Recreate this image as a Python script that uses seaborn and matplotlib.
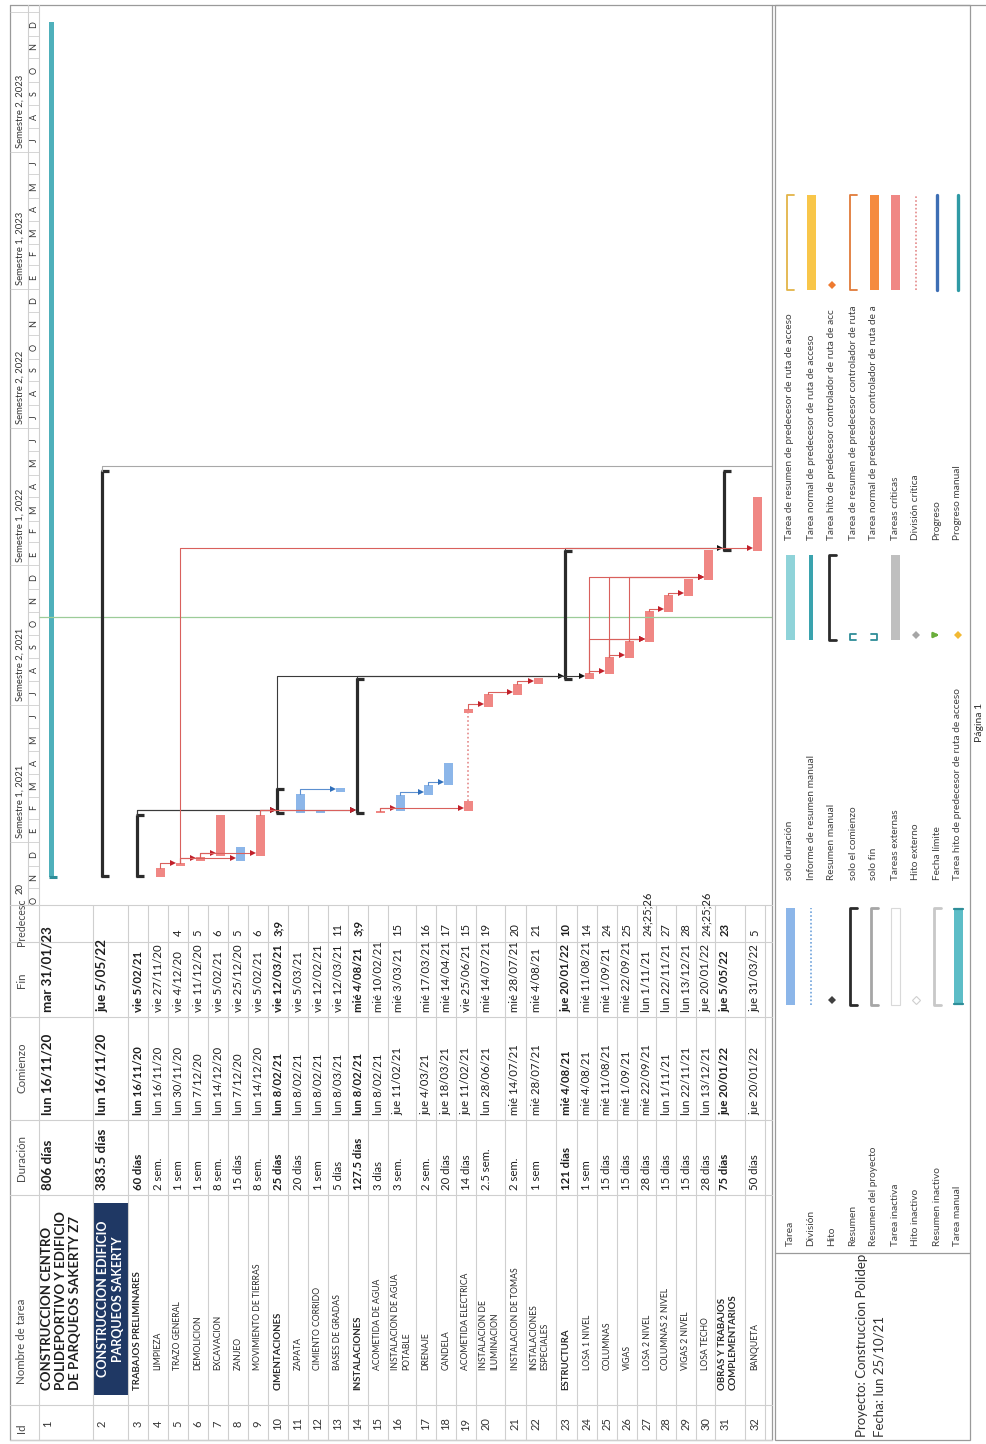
import matplotlib
matplotlib.use("Agg")
import matplotlib.pyplot as plt
import matplotlib.dates as mdates
from matplotlib.patches import Rectangle
import numpy as np
import pandas as pd
import seaborn as sns

sns.set_theme(style="white")
plt.rcParams["font.family"] = ["Lato", "DejaVu Sans"]

# ---------------- datos de la tabla ----------------
ids = list(range(1, 33))
nombres = [
    "CONSTRUCCION CENTRO\nPOLIDEPORTIVO Y EDIFICIO\nDE PARQUEOS SAKERTY Z7",
    "CONSTRUCCION EDIFICIO\nPARQUEOS SAKERTY",
    "TRABAJOS PRELIMINARES", "LIMPIEZA", "TRAZO GENERAL", "DEMOLICION", "EXCAVACION",
    "ZANJEO", "MOVIMIENTO DE TIERRAS",
    "CIMENTACIONES", "ZAPATA", "CIMIENTO CORRIDO", "BASES DE GRADAS",
    "INSTALACIONES", "ACOMETIDA DE AGUA", "INSTALACION DE AGUA\nPOTABLE", "DRENAJE", "CANDELA",
    "ACOMETIDA ELECTRICA", "INSTALACION DE\nILUMINACION", "INSTALACION DE TOMAS",
    "INSTALACIONES\nESPECIALES",
    "ESTRUCTURA", "LOSA 1 NIVEL", "COLUMNAS", "VIGAS", "LOSA 2 NIVEL", "COLUMNAS 2 NIVEL",
    "VIGAS 2 NIVEL", "LOSA TECHO",
    "OBRAS Y TRABAJOS\nCOMPLEMENTARIOS", "BANQUETA",
]
duraciones = ["806 días", "383.5 días", "60 días", "2 sem.", "1 sem", "1 sem", "8 sem.",
              "15 días", "8 sem.", "25 días", "20 días", "1 sem", "5 días", "127.5 días",
              "3 días", "3 sem.", "2 sem.", "20 días", "14 días", "2.5 sem.", "2 sem.", "1 sem",
              "121 días", "1 sem", "15 días", "15 días", "28 días", "15 días", "15 días",
              "28 días", "75 días", "50 días"]
comienzos = ["lun 16/11/20", "lun 16/11/20", "lun 16/11/20", "lun 16/11/20", "lun 30/11/20",
             "lun 7/12/20", "lun 14/12/20", "lun 7/12/20", "lun 14/12/20", "lun 8/02/21",
             "lun 8/02/21", "lun 8/02/21", "lun 8/03/21", "lun 8/02/21", "lun 8/02/21",
             "jue 11/02/21", "jue 4/03/21", "jue 18/03/21", "jue 11/02/21", "lun 28/06/21",
             "mié 14/07/21", "mié 28/07/21", "mié 4/08/21", "mié 4/08/21", "mié 11/08/21",
             "mié 1/09/21", "mié 22/09/21", "lun 1/11/21", "lun 22/11/21", "lun 13/12/21",
             "jue 20/01/22", "jue 20/01/22"]
fines = ["mar 31/01/23", "jue 5/05/22", "vie 5/02/21", "vie 27/11/20", "vie 4/12/20",
         "vie 11/12/20", "vie 5/02/21", "vie 25/12/20", "vie 5/02/21", "vie 12/03/21",
         "vie 5/03/21", "vie 12/02/21", "vie 12/03/21", "mié 4/08/21", "mié 10/02/21",
         "mié 3/03/21", "mié 17/03/21", "mié 14/04/21", "vie 25/06/21", "mié 14/07/21",
         "mié 28/07/21", "mié 4/08/21", "jue 20/01/22", "mié 11/08/21", "mié 1/09/21",
         "mié 22/09/21", "lun 1/11/21", "lun 22/11/21", "lun 13/12/21", "jue 20/01/22",
         "jue 5/05/22", "jue 31/03/22"]
predecesoras = ["", "", "", "", "4", "5", "6", "5", "6", "3;9", "", "", "11", "3;9", "",
                "15", "16", "17", "15", "19", "20", "21", "10", "14", "24", "25", "24;25;26",
                "27", "28", "24;25;26", "23", "5"]
tipos = ["proyecto", "resumen", "resumen", "critica", "critica", "critica", "critica", "normal",
         "critica", "resumen", "normal", "normal", "normal", "resumen", "critica", "normal",
         "normal", "normal", "dividida", "critica", "critica", "critica", "resumen", "critica",
         "critica", "critica", "critica", "critica", "critica", "critica", "resumen", "critica"]
niveles = [0, 1, 2, 3, 3, 3, 3, 3, 3, 2, 3, 3, 3, 2, 3, 3, 3, 3, 3, 3, 3, 3, 2, 3, 3, 3, 3,
           3, 3, 3, 2, 3]

fin_barra_proyecto = "2023-12-19"
tramos_19 = [("2021-02-11", "2021-02-24"), ("2021-06-21", "2021-06-26")]
fecha_estado = "2021-10-25"
letras_mes = "EFMAMJJASOND"

leyenda_a = ["Tarea", "División", "Hito", "Resumen", "Resumen del proyecto", "Tarea inactiva",
             "Hito inactivo", "Resumen inactivo", "Tarea manual"]
leyenda_b = ["solo duración", "Informe de resumen manual", "Resumen manual", "solo el comienzo",
             "solo fin", "Tareas externas", "Hito externo", "Fecha límite",
             "Tarea hito de predecesor de ruta de acceso"]
leyenda_c = ["Tarea de resumen de predecesor de ruta de acceso",
             "Tarea normal de predecesor de ruta de acceso",
             "Tarea hito de predecesor controlador de ruta de acc",
             "Tarea de resumen de predecesor controlador de ruta",
             "Tarea normal de predecesor controlador de ruta de a",
             "Tareas críticas", "División crítica", "Progreso", "Progreso manual"]
muestras_a = [("barra", "#8cb6e9"), ("punteado", "#6fa3dc"), ("diamante", "#404040"),
              ("corchete", "#2b2b2b"), ("corchete", "#a6a6a6"), ("hueca", "#d9d9d9"),
              ("diamante_hueco", "#cfcfcf"), ("corchete", "#c8c8c8"), ("manual", "#5dbdc7")]
muestras_b = [("barra", "#8fd3d9"), ("fina", "#3aa3ae"), ("corchete", "#2b2b2b"),
              ("inicio", "#2e8c97"), ("final", "#2e8c97"), ("barra", "#bfbfbf"),
              ("diamante", "#a6a6a6"), ("flecha", "#6aae3c"), ("diamante", "#f2b933")]
muestras_c = [("corchete_fino", "#e3b448"), ("barra", "#f8c649"), ("diamante", "#ee7a30"),
              ("corchete_fino", "#e07b39"), ("barra", "#f58b3f"), ("barra", "#f08784"),
              ("punteado", "#e48a8a"), ("linea", "#3d6eb4"), ("linea", "#2f9aa5")]

# ---------------- colores ----------------
ROJO = "#f08784"
AZUL = "#8cb6e9"
TEAL = "#4fb0bb"
NEGRO = "#2b2b2b"
REJILLA = "#cfcfcf"
MARCO = "#9a9a9a"
TEXTO = "#1e1e1e"

# ---------------- geometría de la página (pixeles) ----------------
W, H = 987, 1444
alto_fila = [54, 35] + [20] * 13 + [28, 20, 20, 20, 29, 21, 30, 21, 20, 20, 20, 19, 20, 20,
                                     19, 30, 20]
fila_ini = 39 + np.concatenate([[0], np.cumsum(alto_fila)[:-1]])
fila_fin = fila_ini + np.array(alto_fila)

# columnas de la tabla (eje y de la página girada)
Y_TABLA = 905
col_lineas = [905, 942, 1017, 1120, 1195, 1405, 1440]
y_pred, y_fin, y_com, y_dur = 936, 1012, 1115, 1190
y_nombre = {0: 1390, 2: 1390, 3: 1370}
y_id = 1424

df = pd.DataFrame(dict(id=ids, nombre=nombres, dur=duraciones, com=comienzos, fin=fines,
                       pred=predecesoras, tipo=tipos, nivel=niveles))
df["ini_d"] = pd.to_datetime(df["com"].str.split().str[1], format="%d/%m/%y")
df["fin_d"] = pd.to_datetime(df["fin"].str.split().str[1], format="%d/%m/%y") + pd.Timedelta(days=1)
df.loc[0, "fin_d"] = pd.Timestamp(fin_barra_proyecto)
df["ini_n"] = mdates.date2num(df["ini_d"].values)
df["fin_n"] = mdates.date2num(df["fin_d"].values)
df["x0"] = fila_ini
df["xc"] = fila_ini + 12

fig = plt.figure(figsize=(W / 100, H / 100), dpi=100)
hoja = fig.add_axes([0, 0, 1, 1])
hoja.set_xlim(0, W)
hoja.set_ylim(H, 0)
hoja.axis("off")


def vtext(ax, x, y, s, **kw):
    kw.setdefault("color", TEXTO)
    kw.setdefault("ha", "center")
    kw.setdefault("va", "bottom")
    ax.text(x, y, s, rotation=90, **kw)


# ---------------- marco y rejilla de la tabla ----------------
hoja.plot([10, 10], [5, 1440], color=MARCO, lw=0.9)
hoja.plot([10, W], [5, 5], color=MARCO, lw=0.9)
hoja.plot([772, 772], [5, 1440], color=MARCO, lw=0.9)
hoja.plot([10, 772], [1440, 1440], color=MARCO, lw=0.9)
for yl in col_lineas:
    hoja.plot([10, 772], [yl, yl], color=REJILLA, lw=0.8)
for xl in list(fila_ini) + [fila_fin[-1]]:
    hoja.plot([xl, xl], [Y_TABLA, 1440], color=REJILLA, lw=0.8)
hoja.plot([28, 28], [5, Y_TABLA], color=REJILLA, lw=0.8)
hoja.plot([39, 39], [5, Y_TABLA], color=REJILLA, lw=0.8)

# encabezados
HDR = dict(fontsize=8.3, color="#4a4a4a")
vtext(hoja, 22, 946, "Predecesc", fontsize=7.6, color="#4a4a4a")
vtext(hoja, 22, 980, "Fin", va="center", **HDR)
vtext(hoja, 22, 1068, "Comienzo", va="center", **HDR)
vtext(hoja, 22, 1158, "Duración", va="center", **HDR)
vtext(hoja, 22, 1384, "Nombre de tarea", **HDR)
vtext(hoja, 22, 1428, "Id", va="center", **HDR)

# celdas
for r in df.itertuples():
    negrita = r.tipo in ("proyecto", "resumen")
    grande = r.id in (1, 2)
    fs = 9.6 if grande else 8.2
    fw = "bold" if negrita else "normal"
    xl = r.x0 + (9 if grande else 10)
    vtext(hoja, xl, y_id, str(r.id), fontsize=8, va="center", color="#333333")
    vtext(hoja, xl, y_dur, r.dur, fontsize=fs, fontweight=fw)
    vtext(hoja, xl, y_com, r.com, fontsize=fs, fontweight=fw)
    vtext(hoja, xl, y_fin, r.fin, fontsize=fs, fontweight=fw)
    if r.pred:
        vtext(hoja, xl, y_pred, r.pred, fontsize=8, fontweight=fw)
    if r.id == 2:
        hoja.add_patch(Rectangle((r.x0 + 0.5, 1203), alto_fila[1] - 1, 192,
                                 color="#1f3864", lw=0))
        vtext(hoja, r.x0 + alto_fila[1] / 2, 1299, r.nombre, fontsize=9, fontweight="bold",
              color="white", va="center", multialignment="center", linespacing=1.25)
    elif r.id == 1:
        vtext(hoja, r.x0 + 2, y_nombre[0], r.nombre, fontsize=9.5, fontweight="bold",
              ha="left", linespacing=1.2)
    else:
        fsn = 6.9 if negrita else 6.2
        if "\n" in r.nombre:
            vtext(hoja, r.x0 + 3, y_nombre[r.nivel], r.nombre, fontsize=fsn, fontweight=fw,
                  ha="left", linespacing=1.3, color="#2a2a2a")
        else:
            vtext(hoja, xl, y_nombre[r.nivel], r.nombre, fontsize=fsn, fontweight=fw,
                  color="#2a2a2a")

# ---------------- diagrama de Gantt ----------------
GX0, GX1, GY0, GY1 = 10, 772, 5, Y_TABLA
REF, REF_PX, PX_DIA = pd.Timestamp("2020-11-16"), 877, 0.758
DIAS_PX = 1 / PX_DIA
gantt = fig.add_axes([GX0 / W, 1 - GY1 / H, (GX1 - GX0) / W, (GY1 - GY0) / H])
gantt.patch.set_alpha(0)
gantt.set_xlim(GX0, GX1)


def px_a_num(p):
    return mdates.date2num(REF + pd.Timedelta(days=(REF_PX - p) / PX_DIA))


gantt.set_ylim(px_a_num(GY1), px_a_num(GY0))
gantt.axis("off")

# escala de tiempo
meses = pd.date_range("2020-10-01", "2024-01-01", freq="MS")
for m in meses:
    gantt.hlines(mdates.date2num(m), 28, 39, color=REJILLA, lw=0.6)
for m in meses[:-1]:
    gantt.text(34, mdates.date2num(m + pd.Timedelta(days=15)), letras_mes[m.month - 1],
               rotation=90, ha="center", va="center", fontsize=6.5, color="#333333",
               clip_on=True)
semestres = pd.date_range("2020-07-01", "2024-01-01", freq="6MS")
for s in semestres:
    gantt.hlines(mdates.date2num(s), 10, 28, color=REJILLA, lw=0.6)
for s in semestres[:-1]:
    if s < REF:
        # sólo asoma el final de la etiqueta del semestre anterior
        gantt.text(20, px_a_num(883), str(s.year)[2:], rotation=90, ha="center", va="top",
                   fontsize=6.8, color="#333333")
        continue
    etiqueta = "Semestre %d, %d" % (1 if s.month == 1 else 2, s.year)
    gantt.text(20, mdates.date2num(s + pd.Timedelta(days=5)), etiqueta, rotation=90,
               ha="center", va="bottom", fontsize=6.8, color="#333333", clip_on=True)

# línea de fecha de estado
gantt.hlines(mdates.date2num(pd.Timestamp(fecha_estado)), 39, GX1, color="#9ccc98", lw=0.9)

# barra del proyecto (tarea 1)
p1 = df.iloc[0]
gantt.bar(p1.xc, p1.fin_n - p1.ini_n, bottom=p1.ini_n, width=5, color=TEAL, lw=0)
gantt.hlines(p1.ini_n, p1.xc - 2.5, p1.xc + 6, color="#2e8e99", lw=2.2)

# barras críticas y normales
crit = df[df.tipo == "critica"]
gantt.bar(crit.xc, crit.fin_n - crit.ini_n, bottom=crit.ini_n, width=9, color=ROJO, lw=0)
norm = df[df.tipo == "normal"]
gantt.bar(norm.xc, norm.fin_n - norm.ini_n, bottom=norm.ini_n, width=9, color=AZUL, lw=0)

# tarea dividida (19)
t19 = df[df.id == 19].iloc[0]
tr = [(mdates.date2num(pd.Timestamp(a)), mdates.date2num(pd.Timestamp(b))) for a, b in tramos_19]
for a, b in tr:
    gantt.bar(t19.xc, b - a, bottom=a, width=9, color=ROJO, lw=0)
gantt.vlines(t19.xc, tr[0][1], tr[1][0], color="#e48a8a", lw=1.2, linestyles=(0, (1, 1.5)))

# resúmenes
res = df[df.tipo == "resumen"]
for r in res.itertuples():
    xl = r.xc - 3
    gantt.vlines(xl, r.ini_n, r.fin_n, color=NEGRO, lw=2.3)
    gantt.hlines([r.ini_n + 0.6 * DIAS_PX, r.fin_n - 0.6 * DIAS_PX], xl - 1, r.xc + 4,
                 color=NEGRO, lw=2.3)

# vínculo saliente del resumen 2
r2 = df[df.id == 2].iloc[0]
y_sal = r2.fin_n + 5 * DIAS_PX
gantt.plot([r2.xc - 3, r2.xc - 3, GX1], [r2.fin_n, y_sal, y_sal], color="#a8a8a8", lw=0.8)

# vínculos fin-comienzo
pos = df.set_index("id")
orden = {"proyecto": 0, "resumen": 0, "normal": 1, "critica": 2, "dividida": 2}
col_linea = {"resumen": "#3a3a3a", "normal": "#5b8fd0", "critica": "#d9605c",
             "dividida": "#d9605c"}
col_flecha = {"resumen": "#111111", "normal": "#2f6eba", "critica": "#c0202a",
              "dividida": "#c0202a"}
enlaces = [(int(p), s) for s, pr in zip(df.id, df.pred) if pr for p in pr.split(";")]
enlaces.sort(key=lambda e: orden[pos.loc[e[0], "tipo"]])
for p, s in enlaces:
    tp = pos.loc[p, "tipo"]
    xp = pos.loc[p, "xc"] - (3 if tp == "resumen" else 0)
    yp = pos.loc[p, "fin_n"]
    ys = pos.loc[s, "ini_n"] + 3 * DIAS_PX
    xt = pos.loc[s, "xc"] - 7.5
    gantt.plot([xp, xp, xt], [yp, ys, ys], color=col_linea[tp], lw=0.8)
    gantt.plot([xt], [ys], marker=">", ms=5, color=col_flecha[tp], mew=0)

# ---------------- leyenda ----------------
hoja.add_patch(Rectangle((775, 5), 195, 1435, fill=False, edgecolor=MARCO, lw=0.9))
hoja.plot([775, 970], [1253, 1253], color=MARCO, lw=0.9)
vtext(hoja, 862, 1437, "Proyecto: Construccion Polidep", fontsize=9.5, color="#333333")
vtext(hoja, 880, 1437, "Fecha: lun 25/10/21", fontsize=9.5, color="#333333")
vtext(hoja, 979, 722, "Página 1", fontsize=7.5, va="center", color="#333333")


def muestra(tipo, color, x, y0, y1):
    if tipo == "barra":
        hoja.add_patch(Rectangle((x - 4.5, y1), 9, y0 - y1, color=color, lw=0))
    elif tipo == "fina":
        hoja.add_patch(Rectangle((x - 2, y1), 4, y0 - y1, color=color, lw=0))
    elif tipo == "hueca":
        hoja.add_patch(Rectangle((x - 4.5, y1), 9, y0 - y1, facecolor="white",
                                 edgecolor=color, lw=0.8))
    elif tipo == "manual":
        hoja.add_patch(Rectangle((x - 4.5, y1), 9, y0 - y1, color=color, lw=0))
        hoja.plot([x - 4.5, x + 4.5], [y0 - 1, y0 - 1], color="#2e8e99", lw=1.6)
        hoja.plot([x - 4.5, x + 4.5], [y1 + 1, y1 + 1], color="#2e8e99", lw=1.6)
    elif tipo == "punteado":
        hoja.plot([x, x], [y0, y1], color=color, lw=1.2, ls=(0, (1, 1.3)))
    elif tipo == "linea":
        hoja.plot([x, x], [y0, y1], color=color, lw=2.4)
    elif tipo in ("corchete", "corchete_fino"):
        lw = 2.0 if tipo == "corchete" else 1.3
        hoja.plot([x + 4, x - 3, x - 3, x + 4], [y0, y0, y1, y1], color=color, lw=lw)
    elif tipo == "diamante":
        hoja.plot([x], [y0 - 5], marker="D", ms=4.5, color=color, mew=0)
    elif tipo == "diamante_hueco":
        hoja.plot([x], [y0 - 5], marker="D", ms=4.5, mfc="white", mec=color, mew=0.8)
    elif tipo == "inicio":
        hoja.plot([x + 3, x - 3, x - 3, x + 3], [y0, y0, y0 - 6, y0 - 6], color=color, lw=1.3)
    elif tipo == "final":
        hoja.plot([x - 3, x + 3, x + 3, x - 3], [y0, y0, y0 - 6, y0 - 6], color=color, lw=1.3)
    elif tipo == "flecha":
        hoja.annotate("", xy=(x + 5, y0 - 5), xytext=(x - 5, y0 - 5),
                      arrowprops=dict(arrowstyle="-|>", color=color, lw=1.8,
                                      mutation_scale=7))


LEG_X = [790 + 21 * i for i in range(9)]
grupos = [(leyenda_a, muestras_a, 1246, 1005, 908),
          (leyenda_b, muestras_b, 880, 640, 555),
          (leyenda_c, muestras_c, 540, 290, 195)]
for etiquetas, muestras, y_lab, y0, y1 in grupos:
    for x, et, (tipo, color) in zip(LEG_X, etiquetas, muestras):
        vtext(hoja, x, y_lab, et, fontsize=7.3, color="#404040")
        muestra(tipo, color, x, y0, y1)

fig.savefig("out.png", dpi=100, facecolor="white")
